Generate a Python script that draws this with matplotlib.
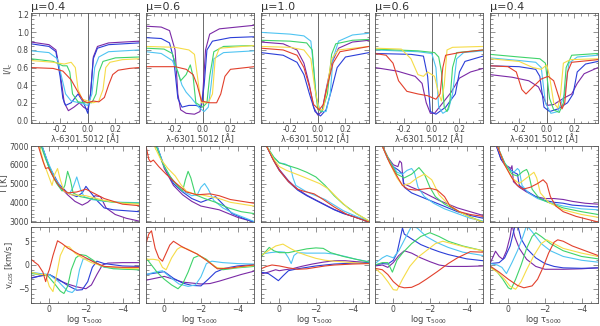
import matplotlib.pyplot as plt
from matplotlib.ticker import MultipleLocator, FixedLocator

# curve order in every panel: purple, blue, cyan, green, yellow, red
colors = ['#7b2aa6', '#2b3ed8', '#4fc4f2', '#3fd36b', '#f6dc48', '#e2402c']
titles = ['\u03bc=0.4', '\u03bc=0.6', '\u03bc=1.0', '\u03bc=0.6', '\u03bc=0.4']

# ---- row 1: line profiles I/Ic vs wavelength offset [A] ----
prof1 = [
    [(-0.41,0.89),(-0.28,0.86),(-0.23,0.8),(-0.2,0.55),(-0.17,0.2),(-0.14,0.11),(-0.1,0.15),(-0.06,0.2),(-0.03,0.15),(0.0,0.12),(0.02,0.3),(0.04,0.72),(0.07,0.84),(0.15,0.88),(0.37,0.90)],
    [(-0.41,0.87),(-0.28,0.84),(-0.23,0.78),(-0.2,0.5),(-0.18,0.25),(-0.16,0.17),(-0.12,0.2),(-0.07,0.3),(-0.03,0.2),(0.0,0.08),(0.02,0.3),(0.04,0.7),(0.07,0.82),(0.15,0.86),(0.37,0.88)],
    [(-0.41,0.79),(-0.28,0.77),(-0.22,0.7),(-0.19,0.5),(-0.16,0.3),(-0.12,0.22),(-0.06,0.2),(0.0,0.17),(0.03,0.3),(0.05,0.6),(0.08,0.72),(0.15,0.78),(0.37,0.80)],
    [(-0.41,0.70),(-0.25,0.67),(-0.18,0.62),(-0.15,0.62),(-0.13,0.55),(-0.11,0.3),(-0.07,0.21),(-0.02,0.2),(0.03,0.2),(0.06,0.3),(0.08,0.55),(0.11,0.67),(0.2,0.71),(0.37,0.72)],
    [(-0.41,0.68),(-0.25,0.66),(-0.17,0.64),(-0.12,0.66),(-0.09,0.6),(-0.07,0.35),(-0.04,0.24),(0.0,0.22),(0.04,0.2),(0.08,0.22),(0.11,0.35),(0.13,0.6),(0.16,0.66),(0.25,0.69),(0.37,0.70)],
    [(-0.41,0.60),(-0.25,0.59),(-0.18,0.56),(-0.12,0.46),(-0.07,0.32),(-0.03,0.22),(0.0,0.20),(0.04,0.22),(0.08,0.21),(0.12,0.26),(0.15,0.40),(0.18,0.52),(0.22,0.57),(0.3,0.59),(0.37,0.60)],
]
prof2 = [
    [(-0.41,1.07),(-0.3,1.06),(-0.24,1.02),(-0.2,0.8),(-0.18,0.3),(-0.16,0.12),(-0.12,0.08),(-0.06,0.07),(-0.02,0.1),(0.0,0.3),(0.02,0.8),(0.05,0.98),(0.12,1.04),(0.37,1.08)],
    [(-0.41,0.94),(-0.3,0.93),(-0.24,0.88),(-0.21,0.7),(-0.18,0.25),(-0.15,0.15),(-0.1,0.17),(-0.05,0.17),(-0.01,0.15),(0.01,0.4),(0.03,0.8),(0.07,0.9),(0.2,0.94),(0.37,0.95)],
    [(-0.41,0.78),(-0.3,0.76),(-0.22,0.68),(-0.18,0.55),(-0.15,0.4),(-0.12,0.32),(-0.08,0.25),(-0.03,0.15),(0.01,0.1),(0.04,0.15),(0.06,0.4),(0.08,0.7),(0.15,0.77),(0.37,0.79)],
    [(-0.41,0.82),(-0.28,0.81),(-0.22,0.76),(-0.19,0.6),(-0.16,0.45),(-0.12,0.52),(-0.09,0.63),(-0.07,0.5),(-0.05,0.2),(0.0,0.15),(0.03,0.2),(0.05,0.5),(0.08,0.78),(0.15,0.84),(0.37,0.85)],
    [(-0.41,0.84),(-0.2,0.83),(-0.1,0.8),(-0.06,0.75),(-0.03,0.4),(-0.01,0.2),(0.04,0.2),(0.07,0.3),(0.09,0.7),(0.12,0.82),(0.37,0.85)],
    [(-0.41,0.61),(-0.2,0.61),(-0.12,0.58),(-0.07,0.52),(-0.04,0.4),(-0.01,0.22),(0.05,0.2),(0.1,0.2),(0.13,0.3),(0.16,0.5),(0.2,0.58),(0.37,0.61)],
]
prof3 = [
    [(-0.41,0.89),(-0.25,0.87),(-0.15,0.8),(-0.1,0.65),(-0.06,0.4),(-0.03,0.15),(0.0,0.06),(0.03,0.1),(0.06,0.35),(0.1,0.65),(0.15,0.82),(0.25,0.89),(0.37,0.91)],
    [(-0.41,0.77),(-0.25,0.74),(-0.15,0.66),(-0.1,0.52),(-0.06,0.3),(-0.02,0.1),(0.02,0.05),(0.06,0.12),(0.1,0.35),(0.14,0.6),(0.2,0.72),(0.37,0.77)],
    [(-0.41,1.0),(-0.2,0.98),(-0.1,0.96),(-0.05,0.9),(-0.03,0.6),(-0.01,0.25),(0.02,0.1),(0.06,0.1),(0.09,0.3),(0.11,0.7),(0.15,0.9),(0.25,0.97),(0.37,0.99)],
    [(-0.41,0.91),(-0.2,0.9),(-0.08,0.88),(-0.04,0.8),(-0.02,0.4),(0.0,0.12),(0.03,0.1),(0.07,0.3),(0.1,0.75),(0.13,0.87),(0.25,0.91),(0.37,0.92)],
    [(-0.41,0.84),(-0.2,0.83),(-0.1,0.8),(-0.05,0.7),(-0.02,0.35),(0.01,0.12),(0.04,0.12),(0.07,0.4),(0.1,0.7),(0.15,0.8),(0.37,0.84)],
    [(-0.41,0.82),(-0.25,0.8),(-0.15,0.74),(-0.1,0.6),(-0.06,0.38),(-0.03,0.18),(0.01,0.12),(0.04,0.18),(0.07,0.4),(0.11,0.65),(0.16,0.78),(0.37,0.84)],
]
prof4 = [
    [(-0.41,0.60),(-0.25,0.56),(-0.12,0.5),(-0.07,0.42),(-0.04,0.2),(-0.01,0.08),(0.02,0.08),(0.08,0.2),(0.14,0.32),(0.2,0.48),(0.28,0.55),(0.37,0.59)],
    [(-0.41,0.76),(-0.15,0.75),(-0.06,0.73),(-0.03,0.5),(-0.01,0.1),(0.03,0.07),(0.1,0.15),(0.17,0.3),(0.2,0.55),(0.24,0.67),(0.37,0.73)],
    [(-0.41,0.8),(-0.1,0.78),(0.0,0.76),(0.03,0.6),(0.05,0.15),(0.08,0.08),(0.12,0.12),(0.15,0.3),(0.18,0.7),(0.23,0.77),(0.37,0.79)],
    [(-0.41,0.81),(-0.1,0.79),(0.02,0.77),(0.05,0.72),(0.07,0.55),(0.09,0.15),(0.11,0.1),(0.13,0.2),(0.15,0.6),(0.18,0.77),(0.37,0.8)],
    [(-0.41,0.82),(-0.22,0.81),(-0.15,0.7),(-0.1,0.52),(-0.06,0.5),(-0.03,0.55),(0.02,0.5),(0.05,0.3),(0.07,0.22),(0.09,0.4),(0.11,0.8),(0.15,0.83),(0.37,0.84)],
    [(-0.41,0.76),(-0.33,0.74),(-0.28,0.65),(-0.24,0.45),(-0.18,0.33),(-0.1,0.3),(-0.03,0.28),(0.03,0.24),(0.06,0.3),(0.08,0.6),(0.1,0.74),(0.2,0.77),(0.37,0.8)],
]
prof5 = [
    [(-0.41,0.52),(-0.25,0.49),(-0.13,0.45),(-0.06,0.38),(-0.02,0.25),(0.0,0.17),(0.05,0.18),(0.12,0.25),(0.18,0.3),(0.22,0.42),(0.27,0.53),(0.37,0.6)],
    [(-0.41,0.62),(-0.2,0.61),(-0.08,0.58),(-0.05,0.5),(-0.02,0.15),(0.02,0.1),(0.08,0.13),(0.15,0.2),(0.19,0.3),(0.22,0.55),(0.28,0.64),(0.37,0.67)],
    [(-0.41,0.71),(-0.2,0.68),(-0.08,0.66),(-0.04,0.6),(-0.01,0.2),(0.03,0.08),(0.08,0.1),(0.13,0.3),(0.16,0.65),(0.22,0.72),(0.37,0.74)],
    [(-0.41,0.75),(-0.2,0.72),(-0.05,0.7),(-0.01,0.65),(0.02,0.25),(0.05,0.12),(0.09,0.09),(0.12,0.2),(0.14,0.6),(0.18,0.74),(0.37,0.76)],
    [(-0.41,0.7),(-0.2,0.67),(-0.1,0.6),(-0.04,0.58),(0.0,0.63),(0.02,0.5),(0.05,0.2),(0.08,0.14),(0.1,0.3),(0.12,0.65),(0.17,0.69),(0.37,0.7)],
    [(-0.41,0.62),(-0.28,0.61),(-0.22,0.55),(-0.18,0.35),(-0.15,0.3),(-0.1,0.38),(-0.04,0.47),(0.01,0.5),(0.05,0.45),(0.09,0.25),(0.11,0.13),(0.13,0.2),(0.15,0.55),(0.18,0.66),(0.37,0.69)],
]

# ---- row 2: temperature [K] vs log tau ----
temp1 = [
    [(0.4,7000),(0.0,5800),(-0.5,4900),(-1.0,4400),(-1.4,4050),(-1.8,3850),(-2.1,4000),(-2.5,4350),(-2.8,4300),(-3.1,3700),(-3.6,3350),(-4.2,3150),(-4.9,3000)],
    [(0.4,7000),(0.0,5900),(-0.5,5000),(-1.0,4500),(-1.5,4300),(-1.8,4500),(-2.0,4850),(-2.2,4600),(-2.6,4100),(-3.0,3700),(-3.5,3600),(-4.9,3500)],
    [(0.4,7000),(0.1,6200),(-0.3,5300),(-0.7,4700),(-1.1,4450),(-1.3,4800),(-1.5,5350),(-1.7,4700),(-1.9,4300),(-2.3,4150),(-3.0,4050),(-4.0,4000),(-4.9,3980)],
    [(0.45,7000),(0.2,6300),(-0.1,5600),(-0.4,5000),(-0.7,4600),(-0.85,4900),(-1.0,5650),(-1.15,5200),(-1.3,4500),(-1.7,4300),(-2.5,4150),(-3.5,4000),(-4.9,3950)],
    [(0.55,7000),(0.3,6100),(0.0,5300),(-0.15,4900),(-0.3,5500),(-0.45,5800),(-0.6,5200),(-0.8,4600),(-1.2,4400),(-2.0,4350),(-3.0,4100),(-4.0,3950),(-4.9,3900)],
    [(0.6,7000),(0.35,6200),(0.2,5800),(0.05,5850),(-0.3,5200),(-0.6,4800),(-1.0,4500),(-1.5,4550),(-2.0,4700),(-2.5,4450),(-3.0,4200),(-3.5,4050),(-4.0,3900),(-4.9,3820)],
]
temp2 = [
    [(0.4,7000),(0.0,5800),(-0.5,4900),(-1.0,4400),(-1.5,4050),(-2.0,3800),(-2.5,3700),(-3.0,3600),(-3.5,3400),(-4.0,3200),(-4.9,2950)],
    [(0.4,7000),(0.0,5900),(-0.5,5000),(-1.0,4550),(-1.5,4200),(-2.0,4000),(-2.4,4150),(-2.8,4300),(-3.2,3900),(-3.7,3400),(-4.3,3150),(-4.9,2950)],
    [(0.4,7000),(0.0,5900),(-0.5,5100),(-1.0,4600),(-1.5,4350),(-1.8,4400),(-2.0,4800),(-2.2,5000),(-2.4,4700),(-2.7,4100),(-3.2,3700),(-3.8,3400),(-4.9,2980)],
    [(0.45,7000),(0.1,6100),(-0.3,5400),(-0.7,4900),(-1.0,4600),(-1.15,5200),(-1.3,5650),(-1.45,5300),(-1.7,4400),(-2.2,4200),(-2.8,4000),(-3.5,3700),(-4.2,3500),(-4.9,3400)],
    [(0.55,7000),(0.2,6300),(-0.2,5800),(-0.6,5400),(-0.9,4950),(-1.2,4600),(-1.6,4450),(-2.0,4400),(-2.5,4300),(-3.0,4200),(-3.6,4000),(-4.9,3800)],
    [(1.0,7000),(0.85,6300),(0.75,6150),(0.6,6250),(0.3,5900),(-0.1,5500),(-0.6,5050),(-1.2,4550),(-1.8,4400),(-2.5,4450),(-3.0,4350),(-3.6,4150),(-4.9,3950)],
]
temp3 = [
    [(0.7,7000),(0.35,6350),(0.0,5750),(-0.5,5150),(-1.0,4700),(-1.5,4380),(-2.0,4120),(-2.5,3870),(-3.0,3620),(-3.5,3420),(-4.0,3260),(-4.9,2970)],
    [(0.7,7000),(0.35,6300),(0.0,5700),(-0.5,5100),(-1.0,4650),(-1.5,4350),(-2.0,4100),(-2.5,3850),(-3.0,3600),(-3.5,3400),(-4.0,3250),(-4.9,2950)],
    [(0.7,7000),(0.3,6400),(0.0,6100),(-0.3,6050),(-0.6,5900),(-0.75,5300),(-0.9,4900),(-1.5,4550),(-2.0,4350),(-2.5,4150),(-3.0,3850),(-3.5,3550),(-4.2,3250),(-4.9,3000)],
    [(0.7,7000),(0.3,6400),(0.0,6100),(-0.5,5950),(-1.0,5800),(-1.5,5600),(-2.0,5350),(-2.5,4900),(-3.0,4350),(-3.5,3900),(-4.2,3400),(-4.9,3000)],
    [(0.7,7000),(0.3,6300),(0.0,5900),(-0.4,5700),(-0.8,5550),(-1.2,5400),(-1.7,5200),(-2.2,5000),(-2.7,4700),(-3.2,4200),(-3.8,3650),(-4.9,3000)],
    [(0.7,7000),(0.3,6200),(0.0,5700),(-0.5,5100),(-1.0,4700),(-1.3,4600),(-1.9,4450),(-2.4,4150),(-3.0,3750),(-3.7,3350),(-4.9,2950)],
]
temp4 = [
    [(0.6,7000),(0.3,6400),(0.0,6000),(-0.25,5900),(-0.35,6200),(-0.45,6100),(-0.55,5000),(-1.0,4800),(-1.5,4600),(-2.0,4350),(-2.5,4100),(-3.0,3900),(-3.5,3700),(-4.2,3500),(-4.9,3300)],
    [(0.6,7000),(0.3,6300),(0.0,5900),(-0.3,5700),(-0.5,5500),(-0.6,4800),(-1.0,4500),(-1.5,4300),(-2.0,4100),(-2.5,3900),(-3.0,3700),(-3.5,3500),(-4.2,3300),(-4.9,3150)],
    [(0.6,7000),(0.2,6200),(-0.2,5600),(-0.5,5500),(-0.75,5700),(-1.0,5800),(-1.15,5600),(-1.35,4800),(-1.7,4300),(-2.2,3950),(-2.8,3650),(-3.5,3400),(-4.2,3150),(-4.9,3000)],
    [(0.6,7000),(0.2,6200),(-0.2,5500),(-0.6,5300),(-1.0,5500),(-1.4,5850),(-1.7,5500),(-2.0,4800),(-2.3,4300),(-2.8,3900),(-3.4,3600),(-4.0,3300),(-4.9,2950)],
    [(0.6,7000),(0.2,6100),(-0.2,5300),(-0.5,4900),(-0.9,5000),(-1.3,5300),(-1.7,5500),(-2.1,5200),(-2.5,4400),(-3.0,3900),(-3.6,3500),(-4.2,3200),(-4.9,2950)],
    [(0.6,7000),(0.2,6100),(-0.2,5400),(-0.5,4900),(-0.8,4700),(-1.2,4650),(-1.6,4700),(-2.0,4750),(-2.4,4650),(-2.8,4300),(-3.1,3800),(-3.6,3500),(-4.2,3350),(-4.9,3250)],
]
temp5 = [
    [(0.65,7000),(0.4,6300),(0.2,6000),(0.0,5900),(-0.15,5800),(-0.2,5950),(-0.28,5100),(-0.6,4800),(-1.0,4550),(-1.5,4300),(-2.0,4200),(-2.5,4200),(-3.0,4150),(-3.5,4050),(-4.2,3950),(-4.9,3900)],
    [(0.65,7000),(0.4,6300),(0.1,5900),(-0.3,5600),(-0.5,5500),(-0.6,4900),(-1.0,4600),(-1.5,4300),(-2.0,4100),(-2.5,4000),(-3.0,3950),(-3.5,3850),(-4.2,3800),(-4.9,3750)],
    [(0.6,7000),(0.2,6100),(-0.1,5700),(-0.3,5600),(-0.5,5800),(-0.6,5700),(-0.75,4900),(-1.1,4500),(-1.6,4200),(-2.2,4000),(-3.0,3800),(-4.0,3650),(-4.9,3600)],
    [(0.6,7000),(0.2,6100),(-0.2,5500),(-0.5,5400),(-0.8,5650),(-1.0,5750),(-1.1,5550),(-1.3,4700),(-1.7,4200),(-2.3,3950),(-3.0,3700),(-4.0,3500),(-4.9,3350)],
    [(0.6,7000),(0.2,6000),(-0.2,5300),(-0.6,5000),(-1.0,5300),(-1.4,5600),(-1.55,5300),(-1.75,4500),(-2.2,4000),(-3.0,3600),(-4.0,3350),(-4.9,3200)],
    [(0.6,7000),(0.2,6000),(-0.2,5300),(-0.5,4900),(-0.8,4700),(-1.2,4800),(-1.6,5000),(-1.9,5200),(-2.1,5000),(-2.3,4300),(-2.6,3800),(-3.0,3500),(-3.7,3250),(-4.9,2950)],
]

# ---- row 3: line-of-sight velocity [km/s] vs log tau ----
vlos1 = [
    [(1.0,-2.7),(0.5,-2.3),(0.0,-2.0),(-0.5,-3.2),(-1.0,-4.0),(-1.5,-4.6),(-2.0,-5.0),(-2.3,-4.2),(-2.6,-2.0),(-2.9,0.0),(-3.2,0.4),(-4.0,0.5),(-4.9,0.5)],
    [(1.0,-2.8),(0.5,-2.3),(0.0,-2.0),(-0.5,-3.0),(-1.0,-4.3),(-1.5,-5.3),(-1.8,-5.2),(-2.1,-3.5),(-2.35,-0.5),(-2.6,0.8),(-3.0,0.3),(-4.0,-0.2),(-4.9,-0.3)],
    [(1.0,-1.5),(0.5,-1.8),(0.0,-2.0),(-0.5,-3.5),(-1.0,-5.5),(-1.25,-5.8),(-1.45,-5.0),(-1.65,-1.0),(-1.85,1.3),(-2.2,1.2),(-2.6,0.3),(-3.0,-0.5),(-4.0,-0.8),(-4.9,-1.0)],
    [(1.0,-1.8),(0.5,-2.0),(0.1,-2.2),(-0.3,-4.0),(-0.6,-5.5),(-0.8,-6.0),(-1.0,-4.5),(-1.2,-1.0),(-1.45,1.5),(-1.7,2.2),(-2.0,2.0),(-2.4,1.0),(-2.8,-0.2),(-3.5,-0.8),(-4.9,-1.0)],
    [(1.0,-1.5),(0.5,-2.0),(0.2,-2.0),(0.0,-4.5),(-0.2,-5.6),(-0.4,-2.0),(-0.6,2.0),(-0.85,4.0),(-1.1,3.8),(-1.4,2.5),(-1.8,1.5),(-2.3,0.5),(-3.0,-0.3),(-4.0,-0.7),(-4.9,-0.8)],
    [(1.0,1.2),(0.6,0.0),(0.35,-1.5),(0.2,-3.5),(0.1,-2.0),(0.0,-1.0),(-0.2,2.0),(-0.45,5.1),(-0.7,4.5),(-1.0,3.6),(-1.5,2.5),(-2.0,1.5),(-2.5,0.5),(-3.0,-0.3),(-4.0,-0.5),(-4.9,-0.5)],
]
vlos2 = [
    [(1.0,-3.2),(0.5,-2.8),(0.0,-2.4),(-0.5,-3.0),(-1.0,-3.6),(-1.5,-3.8),(-2.0,-4.0),(-2.5,-3.9),(-3.0,-3.4),(-3.6,-2.7),(-4.2,-2.0),(-4.9,-1.3)],
    [(1.0,-2.0),(0.5,-1.7),(0.0,-1.4),(-0.5,-2.8),(-1.0,-3.8),(-1.5,-4.3),(-2.0,-4.4),(-2.4,-3.0),(-2.8,-1.5),(-3.3,-0.7),(-4.0,-0.2),(-4.9,0.1)],
    [(1.0,-2.0),(0.5,-1.5),(0.1,-1.2),(-0.3,-2.5),(-0.8,-4.0),(-1.3,-4.5),(-1.7,-4.2),(-2.0,-2.5),(-2.3,0.3),(-2.6,0.8),(-3.2,0.5),(-4.0,0.3),(-4.9,0.2)],
    [(1.0,1.5),(0.7,0.0),(0.4,-1.5),(0.0,-3.0),(-0.4,-4.2),(-0.75,-5.0),(-1.0,-4.0),(-1.3,-1.5),(-1.6,1.5),(-1.9,2.0),(-2.3,1.2),(-2.8,-0.5),(-3.2,-1.0),(-4.0,-0.6),(-4.9,-0.3)],
    [(1.0,1.2),(0.6,1.2),(0.3,1.0),(0.1,-0.5),(-0.1,-1.0),(-0.4,1.5),(-0.7,3.3),(-0.9,3.8),(-1.3,3.3),(-1.8,2.3),(-2.3,1.0),(-2.9,-0.6),(-3.5,-0.7),(-4.2,-0.4),(-4.9,-0.1)],
    [(1.0,4.5),(0.85,6.5),(0.7,7.2),(0.5,3.5),(0.3,1.5),(0.1,0.8),(-0.1,2.5),(-0.3,4.2),(-0.5,5.0),(-0.9,4.0),(-1.3,3.2),(-1.8,2.3),(-2.3,1.0),(-2.9,-0.8),(-3.5,-0.7),(-4.2,-0.3),(-4.9,0.0)],
]
vlos3 = [
    [(1.0,-1.9),(0.6,-1.5),(0.2,-1.0),(0.0,-1.2),(-0.3,-1.0),(-0.7,-0.8),(-1.2,-0.3),(-1.8,0.2),(-2.4,0.6),(-3.0,0.9),(-3.6,0.9),(-4.2,0.7),(-4.9,0.5)],
    [(1.0,-1.5),(0.6,-1.8),(0.3,-2.6),(0.05,-3.3),(-0.2,-2.3),(-0.5,-1.2),(-1.0,-0.8),(-1.5,-0.5),(-2.0,-0.2),(-2.5,0.0),(-3.0,0.2),(-4.0,0.4),(-4.9,0.5)],
    [(1.0,2.3),(0.5,2.6),(0.0,2.8),(-0.3,2.7),(-0.5,1.5),(-0.65,0.3),(-0.8,2.0),(-1.0,2.6),(-1.5,2.5),(-2.0,2.5),(-2.5,2.5),(-3.0,2.3),(-3.6,1.8),(-4.2,1.2),(-4.9,0.7)],
    [(1.0,1.7),(0.75,2.8),(0.55,3.7),(0.3,3.0),(0.0,2.6),(-0.5,2.6),(-1.0,3.0),(-1.5,3.4),(-2.0,3.6),(-2.4,3.5),(-2.8,2.6),(-3.5,1.8),(-4.2,1.2),(-4.9,0.6)],
    [(1.0,2.0),(0.6,3.0),(0.2,4.0),(-0.2,4.4),(-0.6,3.5),(-1.0,2.7),(-1.5,2.0),(-2.0,1.4),(-2.5,1.0),(-3.0,0.8),(-4.0,0.5),(-4.9,0.3)],
    [(1.0,-0.8),(0.7,-0.3),(0.4,0.0),(0.0,-0.2),(-0.5,-0.6),(-1.0,-0.9),(-1.5,-0.8),(-2.0,-0.5),(-2.5,-0.2),(-3.0,0.0),(-4.0,0.2),(-4.9,0.3)],
]
vlos4 = [
    [(1.0,-0.2),(0.6,0.0),(0.3,-0.5),(0.0,0.5),(-0.3,2.0),(-0.6,3.0),(-1.0,2.5),(-1.5,1.5),(-2.0,0.7),(-2.5,0.0),(-3.0,-0.3),(-4.0,-0.3),(-4.9,-0.2)],
    [(1.0,0.0),(0.6,0.3),(0.3,0.2),(0.0,1.0),(-0.2,2.5),(-0.4,6.0),(-0.5,7.8),(-0.6,6.5),(-1.0,5.5),(-1.5,4.3),(-2.0,3.5),(-2.5,2.8),(-3.0,2.2),(-4.0,1.3),(-4.9,0.9)],
    [(1.0,0.3),(0.6,1.5),(0.35,2.0),(0.0,1.5),(-0.3,3.0),(-0.7,6.0),(-1.0,8.2),(-1.3,7.8),(-1.8,6.0),(-2.4,4.7),(-3.0,3.7),(-3.8,2.7),(-4.9,2.0)],
    [(1.0,0.0),(0.6,0.5),(0.3,0.5),(0.05,-1.5),(-0.2,1.0),(-0.5,2.5),(-1.0,4.5),(-1.5,6.0),(-2.0,6.8),(-2.5,6.0),(-3.0,5.0),(-3.8,4.0),(-4.9,3.0)],
    [(1.0,-0.7),(0.6,-2.0),(0.3,-3.5),(0.0,-5.2),(-0.2,-5.3),(-0.5,-3.0),(-0.9,-0.3),(-1.3,1.5),(-1.8,3.0),(-2.3,4.5),(-2.7,5.0),(-3.2,4.5),(-4.0,3.7),(-4.9,3.0)],
    [(1.0,-0.7),(0.6,-1.0),(0.3,-2.0),(0.0,-3.5),(-0.3,-4.5),(-0.6,-4.8),(-1.0,-4.7),(-1.4,-4.0),(-1.8,-3.0),(-2.4,-1.4),(-3.0,0.3),(-3.5,1.5),(-4.2,2.8),(-4.9,2.7)],
]
vlos5 = [
    [(1.0,0.3),(0.8,2.0),(0.7,2.9),(0.5,1.8),(0.3,1.2),(0.1,3.0),(-0.1,6.0),(-0.2,8.5),(-0.35,6.0),(-0.6,3.5),(-1.0,1.2),(-1.5,-0.3),(-2.0,-0.9),(-3.0,-0.9),(-4.0,-0.8),(-4.9,-0.6)],
    [(1.0,0.3),(0.5,0.5),(0.2,1.5),(-0.1,4.0),(-0.35,8.0),(-0.5,8.5),(-0.7,5.5),(-1.0,3.5),(-1.5,1.5),(-2.0,0.3),(-2.5,-0.3),(-3.0,-0.6),(-4.0,-0.7),(-4.9,-0.6)],
    [(1.0,0.3),(0.6,0.0),(0.35,-0.5),(0.1,-1.8),(-0.2,0.5),(-0.5,3.0),(-0.8,6.0),(-1.0,8.3),(-1.3,7.0),(-1.8,4.5),(-2.3,3.0),(-3.0,1.8),(-4.0,1.0),(-4.9,0.6)],
    [(1.0,-0.3),(0.6,-1.5),(0.3,-3.0),(0.0,-4.8),(-0.15,-5.1),(-0.4,-3.0),(-0.7,0.0),(-1.0,3.5),(-1.3,6.0),(-1.5,6.8),(-1.8,6.0),(-2.3,4.5),(-3.0,3.0),(-4.0,1.8),(-4.9,1.3)],
    [(1.0,-0.5),(0.6,-1.5),(0.2,-3.0),(-0.1,-4.5),(-0.4,-5.1),(-0.7,-3.5),(-1.0,-1.0),(-1.4,2.0),(-1.8,4.5),(-2.1,5.3),(-2.5,4.5),(-3.0,3.5),(-4.0,2.5),(-4.9,1.8)],
    [(1.0,-0.2),(0.5,-1.5),(0.0,-3.0),(-0.5,-4.3),(-0.85,-4.8),(-1.3,-4.4),(-1.6,-3.0),(-1.9,-0.5),(-2.2,2.5),(-2.5,4.8),(-2.7,5.3),(-3.0,5.0),(-3.5,4.0),(-4.2,3.0),(-4.9,2.0)],
]

rows = [[prof1, prof2, prof3, prof4, prof5],
        [temp1, temp2, temp3, temp4, temp5],
        [vlos1, vlos2, vlos3, vlos4, vlos5]]

W, H = 600, 326
fig = plt.figure(figsize=(W / 100, H / 100), dpi=100)

col_left = [31, 146, 261, 375, 490]
row_box = [(13, 123), (146, 222), (227, 303)]  # top, bottom in pixels
pw = 108

tick_col = '#444444'
fmt1 = plt.FuncFormatter(lambda v, p: '0.0' if abs(v) < 1e-9 else '%.1f' % v)
for r in range(3):
    for c in range(5):
        top, bot = row_box[r]
        ax = fig.add_axes([col_left[c] / W, 1 - bot / H, pw / W, (bot - top) / H])
        for pts, col in zip(rows[r][c], colors):
            xs, ys = zip(*pts)
            ax.plot(xs, ys, color=col, lw=0.8)

        if r == 0:
            ax.axvline(0, color='#555555', lw=0.6, zorder=0)
            ax.set_xlim(-0.41, 0.37)
            ax.set_ylim(-0.03, 1.22)
            ax.xaxis.set_major_locator(FixedLocator([-0.2, 0.0, 0.2]))
            ax.xaxis.set_minor_locator(MultipleLocator(0.05))
            ax.yaxis.set_major_locator(MultipleLocator(0.2))
            ax.yaxis.set_minor_locator(MultipleLocator(0.05))
            ax.xaxis.set_major_formatter(fmt1)
            ax.yaxis.set_major_formatter(fmt1)
            ax.set_xlabel('\u03bb-6301.5012 [\u00c5]', fontsize=6, labelpad=0.5, color=tick_col)
            ax.set_title(titles[c], loc='left', fontsize=8, pad=2, color='#333333')
            if c == 0:
                ax.set_ylabel('I/I$_c$', fontsize=6, labelpad=1, color=tick_col)
        else:
            ax.set_xlim(1.0, -4.9)
            ax.xaxis.set_major_locator(MultipleLocator(2))
            ax.xaxis.set_minor_locator(MultipleLocator(0.5))
            if r == 1:
                ax.set_ylim(2950, 7000)
                ax.yaxis.set_major_locator(MultipleLocator(1000))
                ax.yaxis.set_minor_locator(MultipleLocator(200))
                ax.tick_params(axis='x', labelbottom=False)
                if c == 0:
                    ax.set_ylabel('T [K]', fontsize=6, labelpad=1, color=tick_col)
            else:
                ax.set_ylim(-8, 8)
                ax.yaxis.set_major_locator(MultipleLocator(5))
                ax.yaxis.set_minor_locator(MultipleLocator(1))
                ax.set_xlabel('log \u03c4$_{5000}$', fontsize=6, labelpad=-1, color=tick_col)
                if c == 0:
                    ax.set_ylabel('v$_{LOS}$ [km/s]', fontsize=6, labelpad=1, color=tick_col)

        ax.tick_params(which='both', direction='in', top=True, right=True,
                       width=0.5, colors='#666666', labelcolor=tick_col, labelsize=5.5)
        ax.tick_params(which='major', length=3.5, pad=1.5)
        ax.tick_params(which='minor', length=1.8)
        if c > 0:
            ax.tick_params(axis='y', labelleft=False)
        for s in ax.spines.values():
            s.set_linewidth(0.6)
            s.set_color('#555555')

fig.savefig('out.png', dpi=100)
